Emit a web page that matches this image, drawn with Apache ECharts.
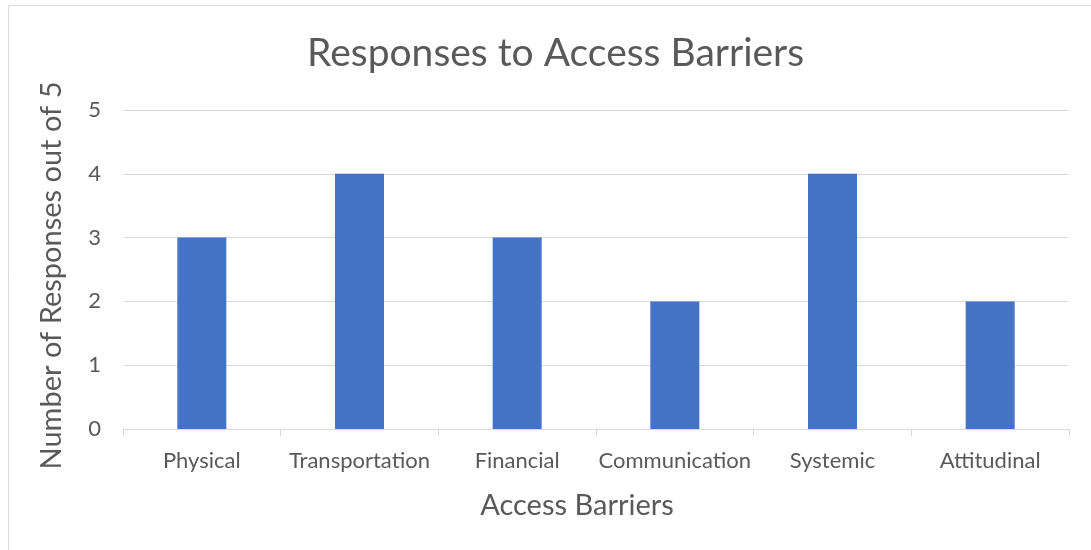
<!DOCTYPE html>
<html>
<head>
<meta charset="utf-8">
<script src="https://cdn.jsdelivr.net/npm/echarts@6/dist/echarts.min.js"></script>
<style>
html, body { margin: 0; padding: 0; background: #fff; }
#chart { width: 1091px; height: 550px; }
</style>
</head>
<body>
<div id="chart"></div>
<script>
const categories = ['Physical', 'Transportation', 'Financial', 'Communication', 'Systemic', 'Attitudinal'];
const responses = [3, 4, 3, 2, 4, 2];
const yTicks = { min: 0, max: 5, interval: 1 };

const font = 'Lato, "Open Sans", sans-serif';
const textColor = '#595959';

const chart = echarts.init(document.getElementById('chart'));
chart.setOption({
    animation: false,
    textStyle: { fontFamily: font },
    graphic: [{
        type: 'rect',
        shape: { x: 8.5, y: 5.5, width: 1100, height: 600 },
        style: { fill: 'none', stroke: '#d9d9d9', lineWidth: 1 },
        silent: true
    }],
    title: {
        text: 'Responses to Access Barriers',
        left: 302,
        top: 29,
        textStyle: { color: textColor, fontSize: 39, fontWeight: 'normal', fontFamily: font }
    },
    grid: { left: 123, right: 22, top: 110, bottom: 121 },
    xAxis: {
        type: 'category',
        data: categories,
        name: 'Access Barriers',
        nameLocation: 'center',
        nameGap: 62,
        nameTextStyle: { color: textColor, fontSize: 29, fontFamily: font, padding: [0, 38, 0, 0] },
        axisLine: { lineStyle: { color: '#d9d9d9', width: 1 } },
        axisTick: { show: true, length: 7, interval: 0, lineStyle: { color: '#d9d9d9' } },
        axisLabel: { color: textColor, fontSize: 22, margin: 21, interval: 0, fontFamily: font }
    },
    yAxis: {
        type: 'value',
        min: yTicks.min,
        max: yTicks.max,
        interval: yTicks.interval,
        name: 'Number of Responses out of 5',
        nameLocation: 'center',
        nameGap: 57,
        nameTextStyle: { color: textColor, fontSize: 29, fontFamily: font, padding: [0, 12, 0, 0] },
        axisLine: { show: false },
        axisTick: { show: false },
        axisLabel: { color: textColor, fontSize: 22, margin: 22, fontFamily: font },
        splitLine: { lineStyle: { color: '#d9d9d9', width: 1 } }
    },
    series: [{
        type: 'bar',
        data: responses,
        barWidth: 49,
        itemStyle: { color: '#4472c4' }
    }]
});
</script>
</body>
</html>
